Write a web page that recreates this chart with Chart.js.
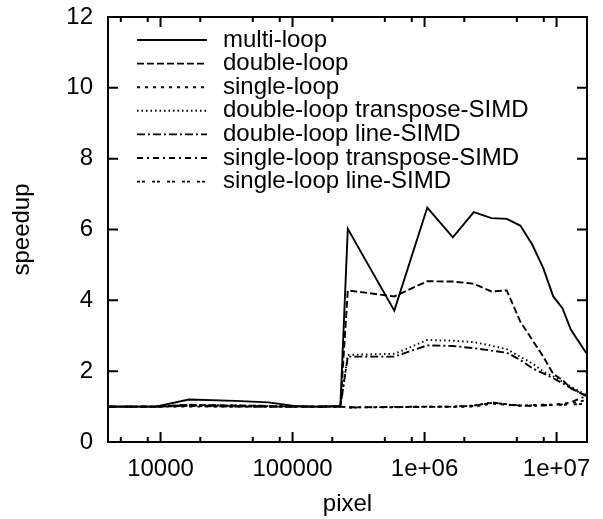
<!DOCTYPE html>
<html>
<head>
<meta charset="utf-8">
<script src="https://cdn.jsdelivr.net/npm/chart.js@4"></script>
<style>
  html, body { margin: 0; padding: 0; background: #fff; }
  #wrap { width: 603px; height: 519px; position: relative; }
</style>
</head>
<body>
<div id="wrap"><canvas id="speedupChart"></canvas></div>
<script>
// image sizes in pixels (x axis)
const pixels = [4096, 9216, 16384, 36864, 65536, 102400, 147456, 230400, 262144, 589824,
    1048576, 1638400, 2359296, 3211264, 4194304, 5308416, 6553600, 7929856, 9437184,
    11075584, 12845056, 16777216];

const multiLoop = [1.0, 1.0, 1.2, 1.16, 1.12, 1.02, 1.0, 1.02, 6.02, 3.71,
    6.62, 5.78, 6.49, 6.32, 6.30, 6.11, 5.57, 4.91, 4.11, 3.78, 3.17, 2.51];
const doubleLoop = [1.0, 1.0, 1.05, 1.03, 1.02, 1.0, 1.0, 1.0, 4.28, 4.11,
    4.54, 4.53, 4.47, 4.25, 4.28, 3.40, 2.88, 2.41, 1.92, 1.75, 1.52, 1.30];
const singleLoop = [1.0, 1.0, 1.0, 1.0, 1.0, 1.0, 1.0, 1.0, 0.98, 0.98,
    1.0, 0.99, 1.0, 1.08, 1.05, 1.03, 1.04, 1.05, 1.05, 1.08, 1.1, 1.18];
const doubleTranspose = [1.0, 1.0, 1.05, 1.03, 1.02, 1.0, 1.0, 1.0, 2.46, 2.49,
    2.88, 2.86, 2.82, 2.72, 2.62, 2.41, 2.22, 1.99, 1.85, 1.70, 1.56, 1.33];
const doubleLine = [1.0, 1.0, 1.03, 1.02, 1.0, 1.0, 1.0, 1.0, 2.41, 2.41,
    2.73, 2.71, 2.65, 2.58, 2.52, 2.32, 2.08, 1.94, 1.80, 1.66, 1.52, 1.30];
const singleTranspose = [1.0, 1.0, 1.02, 1.0, 1.0, 1.0, 1.0, 1.0, 0.98, 0.99,
    0.99, 1.0, 1.02, 1.12, 1.06, 1.02, 1.02, 1.03, 1.05, 1.07, 1.12, 1.3];
const singleLine = [1.0, 1.0, 1.02, 1.0, 1.0, 1.0, 1.0, 1.0, 0.97, 0.99,
    1.0, 1.0, 1.03, 1.1, 1.07, 1.03, 1.03, 1.04, 1.04, 1.05, 1.06, 1.08];

// x axis ticks
const xMajorTicks = [10000, 100000, 1000000, 10000000];
const xTickLabels = ['10000', '100000', '1e+06', '1e+07'];
const xMinorTicks = [5000, 8000, 20000, 50000, 80000, 200000, 500000, 800000,
    2000000, 5000000, 8000000];

const FONT = { family: '"Liberation Sans", Arial, Helvetica, sans-serif', size: 24 };

const series = [
    { label: 'multi-loop', data: multiLoop, dash: [] },
    { label: 'double-loop', data: doubleLoop, dash: [7, 3] },
    { label: 'single-loop', data: singleLoop, dash: [3, 5] },
    { label: 'double-loop transpose-SIMD', data: doubleTranspose, dash: [1.5, 3] },
    { label: 'double-loop line-SIMD', data: doubleLine, dash: [8, 3, 2, 3] },
    { label: 'single-loop transpose-SIMD', data: singleTranspose, dash: [6, 4, 2, 4] },
    { label: 'single-loop line-SIMD', data: singleLine, dash: [3, 2, 3, 7] }
];

// gnuplot-like frame, inward ticks and key
const framePlugin = {
    id: 'frame',
    afterDatasetsDraw(chart) {
        const { ctx, chartArea: a, scales: { x, y } } = chart;
        ctx.save();
        ctx.strokeStyle = '#000';
        ctx.lineWidth = 2;
        ctx.setLineDash([]);
        ctx.beginPath();
        x.ticks.forEach(t => {
            const px = x.getPixelForValue(t.value);
            const len = t.major ? 10 : 5;
            ctx.moveTo(px, a.bottom); ctx.lineTo(px, a.bottom - len);
            ctx.moveTo(px, a.top); ctx.lineTo(px, a.top + len);
        });
        y.ticks.forEach(t => {
            const py = y.getPixelForValue(t.value);
            ctx.moveTo(a.left, py); ctx.lineTo(a.left + 10, py);
            ctx.moveTo(a.right, py); ctx.lineTo(a.right - 10, py);
        });
        ctx.stroke();
        ctx.strokeRect(a.left, a.top, a.right - a.left, a.bottom - a.top);

        // key
        ctx.font = `${FONT.size}px ${FONT.family}`;
        ctx.fillStyle = '#000';
        ctx.textBaseline = 'middle';
        ctx.textAlign = 'left';
        ctx.lineWidth = 1.9;
        chart.data.datasets.forEach((ds, i) => {
            const yy = a.top + 23 + i * 23.6;
            ctx.setLineDash(ds.borderDash || []);
            ctx.beginPath();
            ctx.moveTo(a.left + 29, yy);
            ctx.lineTo(a.left + 99, yy);
            ctx.stroke();
            ctx.fillText(ds.label, a.left + 115, yy);
        });
        ctx.restore();
    }
};

new Chart(document.getElementById('speedupChart'), {
    type: 'line',
    data: {
        datasets: series.map(s => ({
            label: s.label,
            data: s.data.map((v, i) => ({ x: pixels[i], y: v })),
            borderColor: '#000',
            borderWidth: 1.9,
            borderDash: s.dash,
            pointRadius: 0,
            tension: 0,
            fill: false
        }))
    },
    options: {
        responsive: true,
        maintainAspectRatio: false,
        animation: false,
        layout: { padding: { top: 17, right: 16, left: 0, bottom: 0 } },
        plugins: {
            legend: { display: false },
            tooltip: { enabled: false }
        },
        scales: {
            x: {
                type: 'logarithmic',
                min: 4000,
                max: 17000000,
                grid: { display: false, drawTicks: false },
                border: { display: false },
                afterBuildTicks: scale => {
                    scale.ticks = [...xMajorTicks, ...xMinorTicks]
                        .sort((a, b) => a - b)
                        .map(v => ({ value: v, major: xMajorTicks.includes(v) }));
                },
                afterFit: scale => {
                    scale.height = 77;
                    scale.paddingLeft = 0;
                    scale.paddingRight = 0;
                },
                ticks: {
                    autoSkip: false,
                    maxRotation: 0,
                    padding: 13,
                    color: '#000',
                    font: FONT,
                    callback: v => {
                        const i = xMajorTicks.indexOf(v);
                        return i >= 0 ? xTickLabels[i] : '';
                    }
                },
                title: {
                    display: true,
                    text: 'pixel',
                    color: '#000',
                    font: FONT,
                    padding: 0
                }
            },
            y: {
                min: 0,
                max: 12,
                grid: { display: false, drawTicks: false },
                border: { display: false },
                afterFit: scale => {
                    scale.width = 108;
                    scale.paddingTop = 0;
                    scale.paddingBottom = 0;
                },
                ticks: {
                    stepSize: 2,
                    padding: 15,
                    color: '#000',
                    font: FONT
                },
                title: {
                    display: true,
                    text: 'speedup',
                    color: '#000',
                    font: FONT,
                    padding: { top: 8, bottom: 0 }
                }
            }
        }
    },
    plugins: [framePlugin]
});
</script>
</body>
</html>
